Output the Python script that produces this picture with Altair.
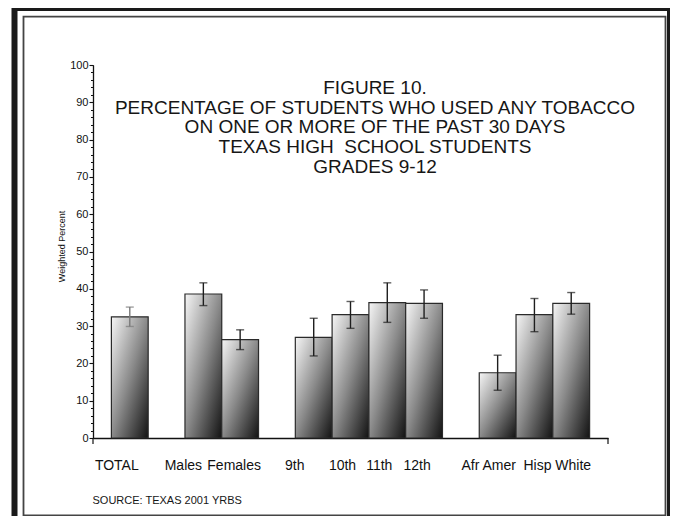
import altair as alt
import pandas as pd

# ---- data ----
categories = ["TOTAL", "Males", "Females", "9th", "10th", "11th", "12th", "Afr Amer", "Hisp", "White"]
percent = [32.5, 38.6, 26.4, 27.0, 33.1, 36.3, 36.1, 17.5, 33.1, 36.1]
ci_low = [29.9, 35.5, 23.7, 22.0, 29.4, 31.0, 32.1, 12.8, 28.5, 33.2]
ci_high = [35.1, 41.6, 29.0, 32.1, 36.6, 41.6, 39.7, 22.2, 37.4, 39.0]
# band order, blank entries are the gaps between groups
x_domain = ["TOTAL", " ", "Males", "Females", "  ", "9th", "10th", "11th", "12th", "   ", "Afr Amer", "Hisp", "White"]
y_ticks = list(range(0, 101, 10))
y_minor_ticks = list(range(0, 101, 2))
title_lines = [
    "FIGURE 10.",
    "PERCENTAGE OF STUDENTS WHO USED ANY TOBACCO",
    "ON ONE OR MORE OF THE PAST 30 DAYS",
    "TEXAS HIGH\u00a0 SCHOOL STUDENTS",
    "GRADES 9-12",
]
source_note = ["SOURCE: TEXAS 2001 YRBS"]
y_title = "Weighted Percent"

# label placement tweaks (style)
label_shift = {"TOTAL": -13, "Males": -20, "Females": -6, "9th": -19, "10th": -8,
               "11th": -8, "12th": -7, "Afr Amer": -9, "Hisp": 3, "White": 2}

FONT = "Liberation Sans"
W, H = 515, 373

df = pd.DataFrame({"cat": categories, "pct": percent, "lo": ci_low, "hi": ci_high})

offset_cond = {
    "condition": [{"test": f"datum.value === '{k}'", "value": v} for k, v in label_shift.items()],
    "value": 0,
}

x_enc = alt.X(
    "cat:N",
    scale=alt.Scale(domain=x_domain, paddingInner=0, paddingOuter=0.5),
    axis=alt.Axis(
        title=None, ticks=False, tickSize=0, domain=True, domainColor="#111",
        domainWidth=1.5, labelFont=FONT, labelFontSize=14, labelColor="#111",
        labelAngle=0, labelPadding=31, labelBaseline="alphabetic",
        labelOffset=offset_cond,
    ),
)
y_scale = alt.Scale(domain=[0, 100], nice=False)

major_axis = alt.Axis(
    orient="left", values=y_ticks, grid=False, domain=True, domainColor="#111",
    domainWidth=1.3, tickColor="#111", tickWidth=1.1, tickSize=4, labelPadding=1,
    labelFont=FONT, labelFontSize=11, labelColor="#111",
    title=y_title, titleFont=FONT, titleFontSize=9, titleFontWeight="normal",
    titleColor="#111", titleX=-32, titleY=181, titleAngle=270,
    titleAlign="center", titleBaseline="middle",
)
minor_axis = alt.Axis(
    orient="left", values=y_minor_ticks, grid=False, domain=False, labels=False,
    tickColor="#111", tickWidth=1, tickSize=2.5, title=None,
)

gradient = alt.LinearGradient(
    gradient="linear",
    stops=[
        alt.GradientStop(color="#f6f6f6", offset=0),
        alt.GradientStop(color="#8a8a8a", offset=0.5),
        alt.GradientStop(color="#121212", offset=1),
    ],
    x1=0, y1=0, x2=1, y2=1,
)

bars = alt.Chart(df).mark_bar(fill=gradient, stroke="#2a2a2a", strokeWidth=1.2).encode(
    x=x_enc, y=alt.Y("pct:Q", scale=y_scale, axis=major_axis)
)

err_color = alt.condition(alt.datum.cat == "TOTAL", alt.value("#7a7a7a"), alt.value("#1e1e1e"))

err_rule = alt.Chart(df).mark_rule(strokeWidth=1.4).encode(
    x=x_enc, y=alt.Y("lo:Q", scale=y_scale, axis=minor_axis), y2="hi:Q", color=err_color
)
cap_hi = alt.Chart(df).mark_tick(thickness=1.4, size=8).encode(
    x=x_enc, y=alt.Y("hi:Q", scale=y_scale, axis=None), color=err_color
)
cap_lo = alt.Chart(df).mark_tick(thickness=1.4, size=8).encode(
    x=x_enc, y=alt.Y("lo:Q", scale=y_scale, axis=None), color=err_color
)

one = pd.DataFrame({"a": [0]})
outer_frame = alt.Chart(one).mark_rect(filled=False, stroke="#1a1a1a", strokeWidth=6).encode(
    x=alt.value(-78.5), x2=alt.value(577), y=alt.value(-57), y2=alt.value(470)
)
inner_frame = alt.Chart(one).mark_rect(filled=False, stroke="#444", strokeWidth=1.8).encode(
    x=alt.value(-69.5), x2=alt.value(572.5), y=alt.value(-48.3), y2=alt.value(450.5)
)
end_tick_l = alt.Chart(one).mark_rule(color="#111", strokeWidth=1.2).encode(
    x=alt.value(0), y=alt.value(H), y2=alt.value(H + 6)
)
end_tick_r = alt.Chart(one).mark_rule(color="#111", strokeWidth=1.2).encode(
    x=alt.value(W), y=alt.value(H), y2=alt.value(H + 6)
)

title_df = pd.DataFrame({"t": ["\n".join(title_lines)]})
title_text = alt.Chart(title_df).mark_text(
    align="center", baseline="alphabetic", font=FONT, fontSize=19, lineHeight=19.6,
    color="#161616", lineBreak="\n",
).encode(text="t:N", x=alt.value(282), y=alt.value(29.3))

source_df = pd.DataFrame({"t": source_note})
source_text = alt.Chart(source_df).mark_text(
    align="left", baseline="alphabetic", font=FONT, fontSize=11, color="#161616"
).encode(text="t:N", x=alt.value(-0.5), y=alt.value(439))

chart = (
    alt.layer(
        outer_frame, inner_frame, bars, err_rule, cap_hi, cap_lo,
        end_tick_l, end_tick_r, title_text, source_text,
    )
    .resolve_axis(y="independent")
    .properties(
        width=W, height=H, autosize="none",
        padding={"left": 85, "top": 57, "right": 62, "bottom": 78},
        background="white",
    )
    .configure_view(strokeWidth=0)
)

chart.save("out.html", embed_options={"renderer": "svg", "actions": False})
